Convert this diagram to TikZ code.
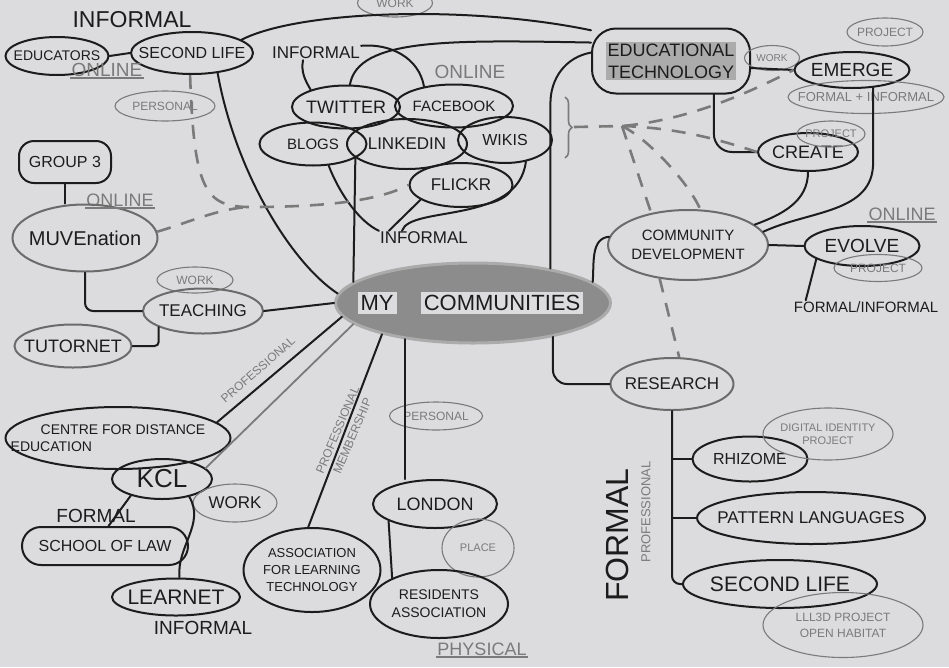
\documentclass[tikz,border=0pt]{standalone}
\usepackage{fontspec}
\setmainfont{Liberation Sans}
\usetikzlibrary{shapes.geometric, calc, positioning, decorations.pathreplacing}
\definecolor{paper}{HTML}{DCDCDE}
\definecolor{ink}{HTML}{1C1C1C}
\definecolor{pencil}{HTML}{7A7A7A}
\definecolor{shade}{HTML}{8C8C8C}
\definecolor{marker}{HTML}{ABABAB}
\newcommand{\fsz}[2]{\fontsize{#1}{#2}\selectfont}
\tikzset{
  el/.style={ellipse, draw=ink, line width=2pt, inner sep=0pt},
  gel/.style={ellipse, draw=ink!65, line width=2pt, inner sep=0pt},
  bx/.style={rectangle, rounded corners=#1, draw=ink, line width=2pt, inner sep=0pt},
  bx/.default=12pt,
  tag/.style={ellipse, draw=pencil, line width=1.1pt, inner sep=0pt},
  txt/.style={text=ink, inner sep=1pt},
  gtxt/.style={text=pencil, inner sep=1pt},
  lnk/.style={ink, line width=2pt, line cap=round},
  glnk/.style={pencil, line width=1.8pt, line cap=round},
  dsh/.style={pencil, line width=2.6pt, dash pattern=on 14pt off 11pt}
}

\begin{document}
\begin{tikzpicture}[x=1pt,y=1pt]
  \fill[paper] (0,0) rectangle (949,-667);
  \useasboundingbox (0,0) rectangle (949,-667);

  % top left
  \node[el, minimum width=103pt, minimum height=38pt, label={[txt,font=\fsz{14}{16}]center:EDUCATORS}] (ed) at (57,-56) {};
  \node[el, minimum width=122pt, minimum height=42pt, label={[txt,font=\fsz{16}{18}]center:SECOND LIFE}] (sl) at (192,-53) {};
  \node[txt, font=\fsz{23}{25}] (inf1) at (132,-20) {INFORMAL};
  \node[gtxt, font=\fsz{19}{21}] (on1) at (107,-70) {ONLINE};
  \node[tag, minimum width=100pt, minimum height=30pt, label={[gtxt,font=\fsz{12}{14}]center:PERSONAL}] (pers1) at (165,-106) {};
  \node[bx=15pt, minimum width=92pt, minimum height=42pt, label={[txt,font=\fsz{16}{18}]center:GROUP 3}] (grp) at (65,-162) {};
  \node[gtxt, font=\fsz{18}{20}] (on2) at (120,-200) {ONLINE};
  \node[gel, minimum width=145pt, minimum height=67pt, label={[txt,font=\fsz{20}{22}]center:MUVEnation}] (muve) at (85,-238) {};
  \node[tag, minimum width=76pt, minimum height=26pt, label={[gtxt,font=\fsz{12}{14}]center:WORK}] (work3) at (195,-280) {};
  \node[gel, minimum width=120pt, minimum height=45pt, label={[txt,font=\fsz{17}{19}]center:TEACHING}] (teach) at (203,-311) {};
  \node[gel, minimum width=117pt, minimum height=43pt, label={[txt,font=\fsz{18}{20}]center:TUTORNET}] (tutor) at (73,-346) {};

  % online cluster
  \node[el, minimum width=108pt, minimum height=43pt, label={[txt,font=\fsz{18}{20}]center:TWITTER}] (tw) at (346,-107) {};
  \node[el, minimum width=118pt, minimum height=43pt, label={[txt,font=\fsz{15}{17}]center:FACEBOOK}] (fb) at (454,-106) {};
  \node[el, minimum width=107pt, minimum height=43pt, label={[txt,font=\fsz{15}{17}]center:BLOGS}] (blogs) at (313,-144) {};
  \node[el, minimum width=120pt, minimum height=50pt, label={[txt,font=\fsz{17}{19}]center:LINKEDIN}] (li) at (407,-144) {};
  \node[el, minimum width=94pt, minimum height=46pt, label={[txt,font=\fsz{16}{18}]center:WIKIS}] (wiki) at (505,-140) {};
  \node[el, minimum width=103pt, minimum height=44pt, label={[txt,font=\fsz{17}{19}]center:FLICKR}] (fl) at (461,-185) {};
  \node[txt, font=\fsz{17}{19}] (inf2) at (316,-53) {INFORMAL};
  \node[gtxt, font=\fsz{19}{21}] (on3) at (470,-72) {ONLINE};
  \node[txt, font=\fsz{17}{19}] (inf3) at (424,-238) {INFORMAL};
  \node[tag, minimum width=75pt, minimum height=28pt, label={[gtxt,font=\fsz{12}{14}]center:WORK}] (work1) at (395,-3) {};

  % centre
  \node[ellipse, draw=marker, line width=3pt, fill=shade, minimum width=275pt, minimum height=80pt, inner sep=0pt,
    label={[txt,fill=paper,inner sep=3pt,font=\fsz{22}{24},xshift=-96pt]center:MY},
    label={[txt,fill=paper,inner sep=3pt,font=\fsz{22}{24},xshift=29pt]center:COMMUNITIES}] (mc) at (473,-303) {};

  % top right
  \node[bx=24pt, minimum width=158pt, minimum height=65pt, label={[txt,fill=marker,inner sep=2pt,align=center,font=\fsz{18}{22}]center:EDUCATIONAL\\TECHNOLOGY}] (edtech) at (671,-61) {};
  \node[tag, minimum width=55pt, minimum height=25pt, label={[gtxt,font=\fsz{10}{12}]center:WORK}] (work2) at (772,-58) {};
  \node[el, minimum width=115pt, minimum height=36pt, label={[txt,font=\fsz{19}{21}]center:EMERGE}] (emerge) at (852,-70) {};
  \node[tag, minimum width=76pt, minimum height=28pt, label={[gtxt,font=\fsz{12}{14}]center:PROJECT}] (proj1) at (885,-32) {};
  \node[tag, minimum width=156pt, minimum height=33pt, label={[gtxt,font=\fsz{13}{15}]center:FORMAL + INFORMAL}] (fi1) at (866,-97) {};
  \node[el, minimum width=100pt, minimum height=38pt, label={[txt,font=\fsz{18}{20}]center:CREATE}] (create) at (808,-152) {};
  \node[tag, minimum width=68pt, minimum height=26pt, label={[gtxt,font=\fsz{11}{13}]center:PROJECT}] (proj2) at (831,-134) {};
  \node[gel, minimum width=160pt, minimum height=70pt, label={[txt,align=center,font=\fsz{15}{19}]center:COMMUNITY\\DEVELOPMENT}] (cd) at (688,-245) {};
  \node[el, minimum width=115pt, minimum height=40pt, label={[txt,font=\fsz{19}{21}]center:EVOLVE}] (evolve) at (862,-246) {};
  \node[tag, minimum width=88pt, minimum height=27pt, label={[gtxt,font=\fsz{12}{14}]center:PROJECT}] (proj3) at (878,-268) {};
  \node[gtxt, font=\fsz{18}{20}] (on4) at (902,-214) {ONLINE};
  \node[txt, font=\fsz{15}{17}] (fi2) at (866,-307) {FORMAL/INFORMAL};

  % research
  \node[gel, minimum width=123pt, minimum height=52pt, label={[txt,font=\fsz{17}{19}]center:RESEARCH}] (research) at (672,-384) {};
  \node[el, minimum width=115pt, minimum height=45pt, label={[txt,font=\fsz{16}{18}]center:RHIZOME}] (rhiz) at (750,-459) {};
  \node[tag, minimum width=130pt, minimum height=52pt, label={[gtxt,align=center,font=\fsz{11}{13}]center:DIGITAL IDENTITY\\PROJECT}] (dig) at (828,-434) {};
  \node[el, minimum width=228pt, minimum height=52pt, label={[txt,font=\fsz{17}{19}]center:PATTERN LANGUAGES}] (pat) at (811,-518) {};
  \node[el, minimum width=194pt, minimum height=48pt, label={[txt,font=\fsz{21}{23}]center:SECOND LIFE}] (sl2) at (780,-584) {};
  \node[tag, minimum width=160pt, minimum height=65pt, label={[gtxt,align=center,font=\fsz{12}{16}]center:LLL3D PROJECT\\OPEN HABITAT}] (lll) at (843,-625) {};
  \node[gtxt, font=\fsz{13}{15}, rotate=90] (prof3) at (646,-512) {PROFESSIONAL};
  \node[txt, font=\fsz{32}{34}, rotate=90] (formal2) at (617,-535) {FORMAL};

  % bottom left
  \node[el, minimum width=225pt, minimum height=62pt, label={[txt,align=left,xshift=-10pt,font=\fsz{14}{17}]center:\hspace*{30pt}CENTRE FOR DISTANCE\\EDUCATION}] (cde) at (118,-438) {};
  \node[el, minimum width=100pt, minimum height=40pt, label={[txt,font=\fsz{26}{28}]center:KCL}] (kcl) at (162,-479) {};
  \node[tag, minimum width=84pt, minimum height=38pt, label={[txt,font=\fsz{17}{19}]center:WORK}] (work4) at (235,-503) {};
  \node[txt, font=\fsz{19}{21}] (formal1) at (96,-516) {FORMAL};
  \node[bx=19pt, minimum width=166pt, minimum height=38pt, label={[txt,font=\fsz{16}{18}]center:SCHOOL OF LAW}] (law) at (105,-546) {};
  \node[el, minimum width=128pt, minimum height=37pt, label={[txt,font=\fsz{21}{23}]center:LEARNET}] (learnet) at (176,-597) {};
  \node[txt, font=\fsz{19}{21}] (inf4) at (203,-628) {INFORMAL};
  \node[el, minimum width=137pt, minimum height=84pt, label={[txt,align=center,font=\fsz{13}{17}]center:ASSOCIATION\\FOR LEARNING\\TECHNOLOGY}] (alt) at (312,-570) {};
  \node[el, minimum width=124pt, minimum height=48pt, label={[txt,font=\fsz{18}{20}]center:LONDON}] (london) at (435,-504) {};
  \node[tag, minimum width=93pt, minimum height=28pt, label={[gtxt,font=\fsz{12}{14}]center:PERSONAL}] (pers2) at (436,-416) {};
  \node[tag, minimum width=72pt, minimum height=58pt, label={[gtxt,font=\fsz{11}{13}]center:PLACE}] (place) at (478,-548) {};
  \node[el, minimum width=138pt, minimum height=68pt, label={[txt,align=center,font=\fsz{14}{18}]center:RESIDENTS\\ASSOCIATION}] (res) at (439,-604) {};
  \node[gtxt, font=\fsz{18}{20}] (phys) at (482,-649) {PHYSICAL};
  \node[gtxt, font=\fsz{12}{14}, rotate=41] (prof1) at (258,-370) {PROFESSIONAL};
  \node[gtxt, font=\fsz{12}{16}, rotate=67, align=center] (prof2) at (345,-433) {PROFESSIONAL\\MEMBERSHIP};

  % underlines
  \foreach \u in {on1,on2,on4,phys}
    \draw[pencil, line width=2pt] (\u.south west) -- (\u.south east);

  % links
  \draw[lnk] (ed.east) -- (sl.west);
  \draw[lnk] (sl.-38) .. controls (235,-170) and (290,-262) .. (mc.176);
  \draw[lnk] (sl.15) .. controls (300,-10) and (470,-5) .. (edtech.159);
  \draw[lnk] (grp.south) -- (grp.south |- muve.north);
  \draw[lnk, rounded corners=8pt] (muve.south) |- (teach.west);
  \draw[lnk, rounded corners=4pt] (tutor.east) -| (teach.200);
  \draw[lnk] (teach.east) -- (mc.180);
  \draw[lnk] ([xshift=-13pt]inf2.south) to[out=-100,in=120] (tw.154);
  \draw[lnk] (inf2.north east) to[out=5,in=100] (fb.147);
  \draw[lnk] (tw.80) .. controls (358,-38) and (450,-40) .. (edtech.167);
  \draw[lnk] (blogs.-54) .. controls (340,-195) and (360,-222) .. (inf3.north west);
  \draw[lnk] (fl.200) -- ([xshift=10pt]inf3.north west);
  \draw[lnk] (wiki.-46) .. controls (518,-225) and (410,-205) .. ([xshift=-22pt]inf3.north);
  \draw[lnk] (li.195) -- (mc.170);
  \draw[lnk] (mc.24) -- ++(0,165) to[out=90,in=190] (edtech.174);
  \draw[lnk] (mc.10) to[out=85,in=185] (cd.174);
  \draw[lnk, rounded corners=14pt] (mc.-23) |- (research.west);
  \draw[lnk] (edtech.-5) -- (emerge.west);
  \draw[lnk, rounded corners=18pt] (edtech.-38) |- (create.west);
  \draw[lnk] (create.south) to[out=-90,in=20] (cd.17);
  \draw[lnk] (emerge.-40) -- ++(0,-75) to[out=-90,in=25] (cd.10);
  \draw[lnk] (cd.east) -- (evolve.west);
  \draw[lnk] (evolve.196) -- ([xshift=13pt]fi2.north west);
  \draw[lnk, rounded corners=8pt] (research.south) |- (sl2.west);
  \draw[lnk] (research.south |- rhiz.west) -- (rhiz.west);
  \draw[lnk] (research.south |- pat.west) -- (pat.west);
  \draw[lnk] (mc.186) -- (cde.9);
  \draw[glnk] (mc.190) -- (kcl.14);
  \draw[lnk] (mc.199) -- (alt.95);
  \draw[lnk] (mc.208) -- (mc.208 |- london.north);
  \draw[lnk] (kcl.208) -- (law.80);
  \draw[lnk] (kcl.-33) to[out=-60,in=95] (learnet.80);
  \draw[lnk] (london.-160) -- (res.151);

  % dashed
  \coordinate (dj) at (250,-207);
  \draw[dsh] (sl.265) .. controls (194,-190) and (205,-207) .. (dj) .. controls (330,-207) and (380,-200) .. (fl.west);
  \draw[dsh] (muve.5) .. controls (190,-222) and (220,-208) .. (dj);
  \draw[pencil, line width=1.6pt, decorate, decoration={brace, amplitude=7pt}] (565,-97) -- (565,-158);
  \coordinate (br) at (574,-127);
  \coordinate (bj) at (622,-126);
  \draw[dsh] (br) -- (bj) .. controls (690,-120) and (750,-92) .. (emerge.west);
  \draw[dsh] (bj) .. controls (680,-128) and (720,-140) .. (create.west);
  \draw[dsh] (bj) -- (cd.139);
  \draw[dsh] (bj) .. controls (650,-140) and (690,-185) .. (cd.71);
  \draw[dsh] (cd.-130) -- (research.75);
\end{tikzpicture}
\end{document}
